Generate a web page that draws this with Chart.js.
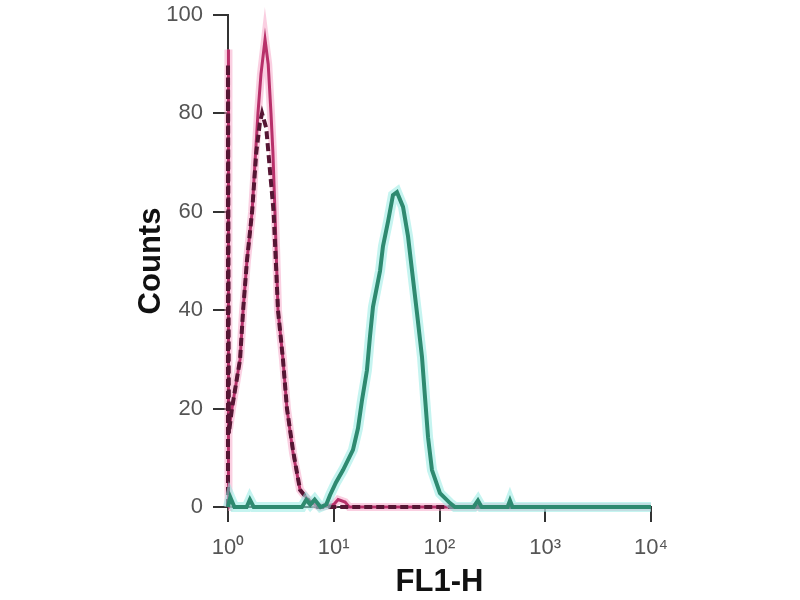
<!DOCTYPE html>
<html lang="en">
<head>
<meta charset="UTF-8">
<title>FL1-H</title>
<script src="https://cdn.jsdelivr.net/npm/chart.js@4.4.1/dist/chart.umd.min.js"></script>
<style>
  html, body { margin: 0; padding: 0; background: #fff; }
  #wrap { width: 800px; height: 600px; }
</style>
</head>
<body>
<div id="wrap"><canvas id="myChart" width="800" height="600"></canvas></div>
<script>
// FL1-H values (log axis) and counts
var pinkX = [1, 1, 1.02, 1.09, 1.3, 1.39, 1.51, 1.69, 1.8, 1.92, 2.05, 2.24, 2.4, 2.55, 2.66, 2.78, 2.97, 3.31, 3.61, 4.12, 4.8, 5.96, 7.4, 10, 11, 12.8, 14, 10000];
var pinkY = [0, 93, 15, 20, 30, 40, 50, 60, 70, 80, 88, 95, 90, 80, 72, 60, 40, 30, 20, 11, 3.5, 1, 0, 0.5, 1.5, 1, 0, 0];

var darkX = [1, 1, 1.02, 1.09, 1.3, 1.39, 1.51, 1.69, 1.85, 2.0, 2.1, 2.3, 2.55, 2.7, 2.97, 3.31, 3.61, 4.12, 4.8, 5.96, 7, 10000];
var darkY = [0, 90, 15, 20, 30, 40, 50, 60, 72, 78, 80, 77, 66, 60, 40, 30, 20, 11.5, 3.5, 1, 0, 0];

var tealX = [1, 1.05, 1.15, 1.5, 1.61, 1.75, 5, 5.5, 6, 6.6, 7.5, 8.5, 9.21, 10.5, 12.24, 15.2, 16.95, 18.5, 20.6, 22, 23.5, 27.4, 29.2, 32.6, 36.3, 39.6, 45.2, 50.4, 55, 61.3, 68.3, 72.9, 77.9, 84.9, 101, 125.7, 140, 210, 231, 250, 440, 464, 490, 10000];
var tealY = [0, 2, 0, 0, 1.5, 0, 0, 1.5, 0.5, 1.5, 0, 0.5, 2.4, 5, 7.5, 11.6, 16, 21.7, 27.8, 34.6, 40.7, 48, 53, 58, 63.4, 64, 61, 55, 48, 39.4, 30.5, 22.4, 14.2, 7.5, 2.8, 0.8, 0, 0, 1.3, 0, 0, 1.3, 0, 0];

var xTicks = [1, 10, 100, 1000, 10000];
var xTickLabels = ['10\u2070', '10\u00b9', '10\u00b2', '10\u00b3', '10\u2074'];
var yTicks = [0, 20, 40, 60, 80, 100];

function pts(xs, ys) {
    var out = [];
    for (var i = 0; i < xs.length; i++) {
        out.push({ x: xs[i], y: ys[i] });
    }
    return out;
}

var tickFont = { family: "'Liberation Sans', Arial, sans-serif", size: 22, weight: 'normal' };
var titleFont = { family: "'Liberation Sans', Arial, sans-serif", size: 31, weight: 'bold', lineHeight: 1 };

var ctx = document.getElementById('myChart').getContext('2d');
var myChart = new Chart(ctx, {
    type: 'scatter',
    data: {
        datasets: [
            { data: pts(tealX, tealY), showLine: true, borderColor: '#2e8a70', borderWidth: 4, pointRadius: 0, clip: false },
            { data: pts(tealX, tealY), showLine: true, borderColor: 'rgba(150,235,228,0.55)', borderWidth: 10, pointRadius: 0, clip: false },
            { data: pts(darkX, darkY), showLine: true, borderColor: '#561634', borderWidth: 4, borderDash: [8, 4], pointRadius: 0, clip: false },
            { data: pts(pinkX, pinkY), showLine: true, borderColor: '#b8306a', borderWidth: 3, pointRadius: 0, clip: false },
            { data: pts(pinkX, pinkY), showLine: true, borderColor: 'rgba(245,160,195,0.5)', borderWidth: 8, pointRadius: 0, clip: false }
        ]
    },
    options: {
        responsive: false,
        animation: false,
        layout: { padding: { left: 0, right: 149, top: 15, bottom: 0 } },
        plugins: { legend: { display: false }, tooltip: { enabled: false } },
        scales: {
            x: {
                type: 'logarithmic',
                min: 1,
                max: 10000,
                afterBuildTicks: function (scale) {
                    scale.ticks = xTicks.map(function (v) { return { value: v }; });
                },
                afterFit: function (scale) {
                    scale.height = 93;
                    scale.paddingLeft = 0;
                    scale.paddingRight = 0;
                },
                ticks: {
                    autoSkip: false,
                    maxRotation: 0,
                    padding: 13,
                    color: '#555',
                    font: tickFont,
                    major: { enabled: false },
                    callback: function (value) {
                        var i = xTicks.indexOf(value);
                        return i >= 0 ? xTickLabels[i] : '';
                    }
                },
                grid: { drawOnChartArea: false, tickLength: 15, color: '#333', lineWidth: 2 },
                border: { display: true, color: '#333', width: 2 },
                title: { display: true, text: 'FL1-H', color: '#111', font: titleFont, padding: { top: 0, bottom: 2 } }
            },
            y: {
                min: 0,
                max: 100,
                afterBuildTicks: function (scale) {
                    scale.ticks = yTicks.map(function (v) { return { value: v }; });
                },
                afterFit: function (scale) {
                    scale.width = 228;
                    scale.paddingTop = 0;
                    scale.paddingBottom = 0;
                },
                ticks: { padding: 10, color: '#555', font: tickFont },
                grid: { drawOnChartArea: false, tickLength: 15, color: '#333', lineWidth: 2 },
                border: { display: true, color: '#333', width: 2 },
                title: { display: true, text: 'Counts', color: '#111', font: titleFont, padding: { top: 136, bottom: 0 } }
            }
        }
    }
});
</script>
</body>
</html>
